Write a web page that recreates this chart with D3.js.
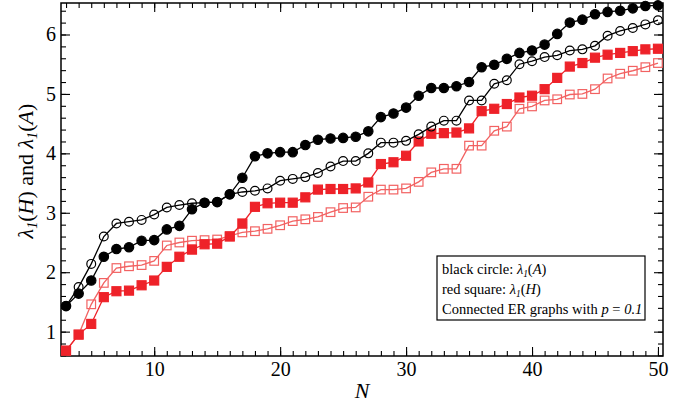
<!DOCTYPE html>
<html>
<head>
<meta charset="utf-8">
<script src="https://cdn.jsdelivr.net/npm/d3@7"></script>
<style>
  body { margin: 0; background: #fff; }
</style>
</head>
<body>
<script>
// N = 3 .. 50
const nValues = d3.range(3, 51);

// lambda_1(A), filled black circles
const blackFilled = [1.43, 1.64, 1.86, 2.26, 2.39, 2.42, 2.53, 2.54, 2.72, 2.78, 3.06, 3.17, 3.18, 3.31, 3.59, 3.95,
  4.00, 4.02, 4.02, 4.14, 4.23, 4.25, 4.26, 4.28, 4.37, 4.61, 4.67, 4.77, 4.97, 5.10, 5.10, 5.13,
  5.20, 5.45, 5.49, 5.59, 5.69, 5.73, 5.83, 6.01, 6.20, 6.25, 6.34, 6.38, 6.40, 6.44, 6.48, 6.49];
// lambda_1(A), open black circles
const blackOpen = [1.43, 1.75, 2.14, 2.60, 2.82, 2.85, 2.88, 2.97, 3.09, 3.13, 3.16, 3.17, 3.18, 3.31, 3.35, 3.37,
  3.41, 3.54, 3.57, 3.60, 3.67, 3.78, 3.87, 3.87, 4.00, 4.18, 4.18, 4.21, 4.32, 4.45, 4.55, 4.55,
  4.89, 4.89, 5.17, 5.23, 5.50, 5.55, 5.62, 5.65, 5.73, 5.75, 5.81, 5.98, 6.06, 6.11, 6.17, 6.24];
// lambda_1(H), filled red squares
const redFilled = [0.68, 0.95, 1.13, 1.58, 1.68, 1.69, 1.78, 1.86, 2.09, 2.26, 2.38, 2.47, 2.48, 2.60, 2.82, 3.10,
  3.16, 3.17, 3.17, 3.26, 3.39, 3.40, 3.40, 3.41, 3.51, 3.82, 3.85, 3.96, 4.20, 4.33, 4.34, 4.35,
  4.42, 4.71, 4.75, 4.83, 4.94, 4.97, 5.08, 5.27, 5.46, 5.52, 5.61, 5.66, 5.69, 5.72, 5.75, 5.76];
// lambda_1(H), open red squares
const redOpen = [0.68, 0.95, 1.46, 1.82, 2.07, 2.10, 2.12, 2.19, 2.45, 2.50, 2.53, 2.54, 2.55, 2.61, 2.67, 2.69,
  2.73, 2.79, 2.86, 2.89, 2.93, 3.01, 3.08, 3.09, 3.27, 3.39, 3.39, 3.41, 3.52, 3.68, 3.74, 3.74,
  4.13, 4.13, 4.38, 4.45, 4.75, 4.79, 4.89, 4.91, 4.99, 5.00, 5.08, 5.26, 5.34, 5.39, 5.45, 5.52];

const xTicks = [10, 20, 30, 40, 50];
const yTicks = [1, 2, 3, 4, 5, 6];

const width = 690;
const height = 407;
const plotLeft = 61, plotRight = 663, plotTop = 3, plotBottom = 356;
const serif = '"Liberation Serif", "Times New Roman", serif';

const svg = d3.select('body')
  .append('svg')
  .attr('width', width)
  .attr('height', height)
  .style('font-family', serif);

const x = d3.scaleLinear().domain([2.6, 50.4]).range([plotLeft, plotRight]);
const y = d3.scaleLinear().domain([0.59, 6.53]).range([plotBottom, plotTop]);

const xMinor = d3.range(3, 51);
const yMinor = d3.range(3, 33).map(i => i / 5);

// ticks point inward on all four sides
function addAxis(axis, tx, ty, ticks, size, labels) {
  const g = svg.append('g')
    .attr('transform', `translate(${tx},${ty})`)
    .call(axis.tickValues(ticks).tickSize(-size).tickPadding(labels ? 6 : 0)
      .tickFormat(labels ? d3.format('d') : ''));
  g.attr('font-family', null);
  g.select('.domain').remove();
  g.selectAll('line').attr('stroke', '#000').attr('stroke-width', 1.1);
  g.selectAll('text').attr('fill', '#000')
    .style('font-family', serif)
    .style('font-size', '20px');
  return g;
}

addAxis(d3.axisBottom(x), 0, plotBottom, xMinor, 5, false);
addAxis(d3.axisTop(x), 0, plotTop, xMinor, 5, false);
addAxis(d3.axisLeft(y), plotLeft, 0, yMinor, 5, false);
addAxis(d3.axisRight(y), plotRight, 0, yMinor, 5, false);

addAxis(d3.axisBottom(x), 0, plotBottom, xTicks, 9, true);
addAxis(d3.axisTop(x), 0, plotTop, xTicks, 9, false);
addAxis(d3.axisLeft(y), plotLeft, 0, yTicks, 9, true).selectAll('text').attr('x', -5);
addAxis(d3.axisRight(y), plotRight, 0, yTicks, 9, false);

svg.append('rect')
  .attr('x', plotLeft).attr('y', plotTop)
  .attr('width', plotRight - plotLeft).attr('height', plotBottom - plotTop)
  .attr('fill', 'none').attr('stroke', '#000').attr('stroke-width', 1.5);

const line = d3.line().x((d, i) => x(nValues[i])).y(d => y(d));

function drawSeries(values, color, shape, filled) {
  svg.append('path')
    .datum(values)
    .attr('d', line)
    .attr('fill', 'none')
    .attr('stroke', color)
    .attr('stroke-width', 1.3);
  const g = svg.append('g');
  if (shape === 'circle') {
    g.selectAll('circle').data(values).join('circle')
      .attr('cx', (d, i) => x(nValues[i]))
      .attr('cy', d => y(d))
      .attr('r', filled ? 4.7 : 4.4)
      .attr('fill', filled ? color : 'none')
      .attr('stroke', color)
      .attr('stroke-width', 1.2);
  } else {
    const s = filled ? 9 : 8.6;
    g.selectAll('rect').data(values).join('rect')
      .attr('x', (d, i) => x(nValues[i]) - s / 2)
      .attr('y', d => y(d) - s / 2)
      .attr('width', s).attr('height', s)
      .attr('fill', filled ? color : 'none')
      .attr('stroke', color)
      .attr('stroke-width', 1.2);
  }
}

drawSeries(redOpen, '#f26262', 'square', false);
drawSeries(redFilled, '#ee2229', 'square', true);
drawSeries(blackOpen, '#000', 'circle', false);
drawSeries(blackFilled, '#000', 'circle', true);

// axis titles
svg.append('text')
  .attr('x', (plotLeft + plotRight) / 2)
  .attr('y', 398)
  .attr('text-anchor', 'middle')
  .style('font-size', '22px')
  .style('font-style', 'italic')
  .text('N');

const yTitle = svg.append('text')
  .attr('transform', 'translate(33,171) rotate(-90)')
  .attr('text-anchor', 'middle')
  .style('font-size', '22px');

function lambda(t, arg) {
  t.append('tspan').style('font-style', 'italic').text('λ');
  t.append('tspan').style('font-style', 'italic').style('font-size', '0.65em').attr('dy', '0.3em').text('1');
  t.append('tspan').attr('dy', '-0.2em').text('(');
  t.append('tspan').style('font-style', 'italic').text(arg);
  t.append('tspan').text(')');
}

lambda(yTitle, 'H');
yTitle.append('tspan').text(' and ');
lambda(yTitle, 'A');

// legend
svg.append('rect')
  .attr('x', 437).attr('y', 256)
  .attr('width', 208).attr('height', 64)
  .attr('fill', '#fff').attr('stroke', '#000').attr('stroke-width', 1.2);

const legendLines = [
  { label: 'black circle: ', arg: 'A' },
  { label: 'red square: ', arg: 'H' }
];

legendLines.forEach((l, i) => {
  const t = svg.append('text')
    .attr('x', 442)
    .attr('y', 274 + i * 20)
    .style('font-size', '14.5px');
  t.append('tspan').text(l.label);
  lambda(t, l.arg);
});

const note = svg.append('text')
  .attr('x', 442)
  .attr('y', 314)
  .style('font-size', '14.5px');
note.append('tspan').text('Connected ER graphs with ');
note.append('tspan').style('font-style', 'italic').text('p');
note.append('tspan').text(' = ');
note.append('tspan').style('font-style', 'italic').text('0.1');
</script>
</body>
</html>
